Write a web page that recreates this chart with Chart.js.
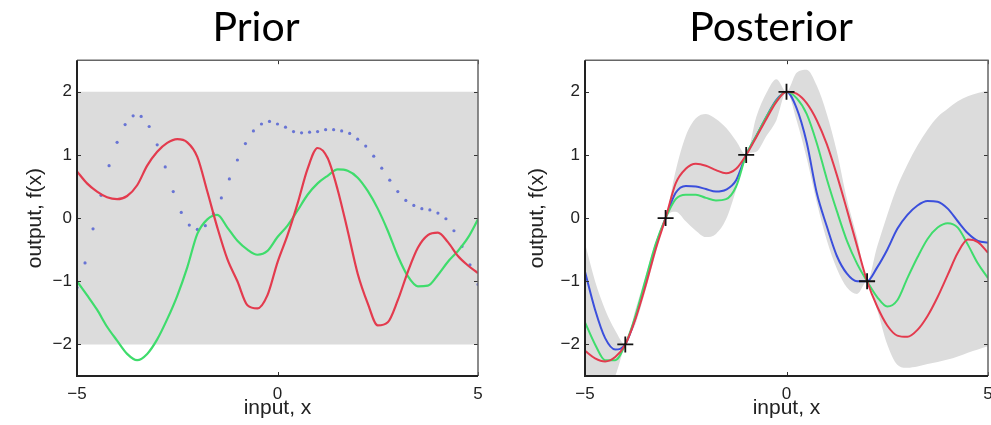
<!DOCTYPE html>
<html><head><meta charset="utf-8">
<script src="https://cdn.jsdelivr.net/npm/chart.js@4.4.1/dist/chart.umd.min.js"></script>
<style>
html,body{margin:0;padding:0;background:#fff;overflow:hidden;width:991px;height:425px;}
#wrap{position:relative;width:991px;height:425px;overflow:hidden;}
canvas{position:absolute;top:0;}
#c1{left:0;width:512px;height:425px;}
#c2{left:500px;width:542px;height:425px;}
</style></head><body>
<div id="wrap"><canvas id="c1" width="512" height="425"></canvas><canvas id="c2" width="542" height="425"></canvas></div>
<script>
// ---- data ----
const xGrid = [-5,-4.75,-4.5,-4.25,-4,-3.75,-3.5,-3.25,-3,-2.75,-2.5,-2.25,-2,-1.75,-1.5,-1.25,-1,-0.75,-0.5,-0.25,0,0.25,0.5,0.75,1,1.25,1.5,1.75,2,2.25,2.5,2.75,3,3.25,3.5,3.75,4,4.25,4.5,4.75,5];

const priorRed = [0.74,0.55,0.42,0.33,0.30,0.35,0.52,0.83,1.05,1.19,1.25,1.2,0.97,0.42,-0.15,-0.65,-1.0,-1.38,-1.43,-1.22,-0.7,-0.27,0.23,0.78,1.11,0.95,0.45,-0.2,-0.88,-1.35,-1.7,-1.65,-1.3,-0.85,-0.47,-0.27,-0.23,-0.38,-0.6,-0.75,-0.87];
const priorGreen = [-1.0,-1.22,-1.45,-1.72,-1.94,-2.15,-2.25,-2.15,-1.92,-1.6,-1.23,-0.78,-0.25,-0.02,0.05,-0.15,-0.36,-0.5,-0.58,-0.52,-0.3,-0.12,0.12,0.37,0.55,0.67,0.77,0.75,0.64,0.43,0.15,-0.2,-0.6,-0.92,-1.08,-1.07,-0.9,-0.69,-0.52,-0.31,-0.02];

const priorDotX = [-5,-4.8,-4.6,-4.4,-4.2,-4,-3.8,-3.6,-3.4,-3.2,-3,-2.8,-2.6,-2.4,-2.2,-2,-1.8,-1.6,-1.4,-1.2,-1,-0.8,-0.6,-0.4,-0.2,0,0.2,0.4,0.6,0.8,1,1.2,1.4,1.6,1.8,2,2.2,2.4,2.6,2.8,3,3.2,3.4,3.6,3.8,4,4.2,4.4,4.6,4.8,5];
const priorDotY = [-1.1,-0.71,-0.17,0.36,0.83,1.2,1.48,1.62,1.61,1.45,1.16,0.81,0.42,0.09,-0.11,-0.18,-0.12,0.07,0.32,0.62,0.92,1.18,1.38,1.49,1.53,1.49,1.44,1.37,1.35,1.36,1.37,1.40,1.40,1.38,1.34,1.25,1.14,0.98,0.79,0.60,0.42,0.28,0.20,0.15,0.13,0.08,-0.01,-0.2,-0.45,-0.74,-1.05];

const priorBandX = [-5,5];
const priorUpper = [2,2];
const priorLower = [-2,-2];

const postRed = [-2.1,-2.22,-2.27,-2.2,-2.0,-1.6,-1.08,-0.5,0,0.55,0.78,0.86,0.83,0.76,0.71,0.78,1.0,1.28,1.57,1.84,2.0,1.97,1.82,1.55,1.17,0.68,0.13,-0.44,-1.0,-1.4,-1.7,-1.86,-1.88,-1.77,-1.55,-1.25,-0.9,-0.55,-0.34,-0.38,-0.55];
const postGreen = [-1.65,-2.0,-2.25,-2.25,-2.0,-1.55,-0.98,-0.42,0,0.3,0.37,0.37,0.32,0.28,0.3,0.5,1.0,1.3,1.6,1.86,2.0,1.9,1.65,1.19,0.62,0.11,-0.36,-0.72,-1.0,-1.25,-1.4,-1.3,-0.95,-0.62,-0.33,-0.15,-0.08,-0.15,-0.42,-0.72,-0.95];
const postBlue = [-0.85,-1.45,-1.9,-2.08,-2.0,-1.58,-1.02,-0.45,0,0.4,0.51,0.5,0.46,0.42,0.45,0.6,1.0,1.3,1.6,1.87,2.0,1.74,1.2,0.4,-0.13,-0.6,-0.88,-1.0,-1.0,-0.78,-0.5,-0.17,0.05,0.2,0.27,0.26,0.15,-0.05,-0.24,-0.36,-0.39];
const postUpper = [-0.4,-1.0,-1.45,-1.78,-2.0,-1.45,-0.92,-0.37,0,0.75,1.3,1.58,1.65,1.57,1.43,1.22,1.0,1.6,1.98,2.2,2.0,2.3,2.35,2.1,1.65,1.05,0.3,-0.3,-1.0,-0.45,0.05,0.5,0.85,1.15,1.4,1.6,1.73,1.85,1.93,1.98,2.02];
const postLower = [-3.4,-3.1,-2.8,-2.5,-2.0,-1.68,-1.15,-0.57,0,0.1,-0.05,-0.2,-0.3,-0.25,-0.02,0.45,1.0,1.05,1.3,1.55,2.0,1.55,0.95,0.25,-0.35,-0.8,-1.1,-1.2,-1.0,-1.45,-2.0,-2.32,-2.37,-2.35,-2.31,-2.28,-2.24,-2.19,-2.13,-2.08,-2.03];

const trainX = [-4,-3,-1,0,2];
const trainY = [-2,0,1,2,-1];

const xTicks = [-5,0,5];
const yTicks = [-2,-1,0,1,2];

// ---- styles ----
const RED = '#e33b4e', GREEN = '#3fdc6c', BLUE = '#3b4fdc', BAND = '#dcdcdc', DOT = '#6874d4';
const tickFont = {family:'"Liberation Sans", Arial, sans-serif', size:17};
const labelFont = {family:'"Liberation Sans", Arial, sans-serif', size:21};
const fmt = v => (v < 0 ? '\u2212' + Math.abs(v) : String(v));
const pts = (xs, ys) => xs.map((x, i) => ({x, y: ys[i]}));

const framePlugin = {
  id: 'frame',
  afterDatasetsDraw(chart) {
    const {ctx, chartArea: a, scales: {x, y}} = chart;
    ctx.save();
    ctx.strokeStyle = '#333'; ctx.lineWidth = 1;
    ctx.beginPath();
    x.ticks.forEach(t => { const p = Math.round(x.getPixelForValue(t.value)) + 0.5;
      ctx.moveTo(p, a.bottom); ctx.lineTo(p, a.bottom - 4); ctx.moveTo(p, a.top); ctx.lineTo(p, a.top + 4); });
    y.ticks.forEach(t => { const p = Math.round(y.getPixelForValue(t.value)) + 0.5;
      ctx.moveTo(a.left, p); ctx.lineTo(a.left + 4, p); ctx.moveTo(a.right, p); ctx.lineTo(a.right - 4, p); });
    ctx.stroke();
    ctx.lineWidth = 1.5; ctx.strokeStyle = '#666';
    ctx.beginPath(); ctx.moveTo(a.left, a.top); ctx.lineTo(a.right, a.top); ctx.lineTo(a.right, a.bottom); ctx.stroke();
    ctx.lineWidth = 2; ctx.strokeStyle = '#222';
    ctx.beginPath(); ctx.moveTo(a.left, a.top); ctx.lineTo(a.left, a.bottom); ctx.lineTo(a.right, a.bottom); ctx.stroke();
    ctx.restore();
  }
};

function makeOptions(title, yWidth, rightWidth, yTitlePad) {
  return {
    responsive: false, animation: false, devicePixelRatio: 1,
    layout: {padding: 0},
    plugins: {
      legend: {display: false}, tooltip: {enabled: false},
      title: {display: true, text: title, color: '#000',
        font: {family: 'Lato, "Open Sans", sans-serif', size: 41, weight: 'normal'},
        padding: {top: 3, bottom: 8}}
    },
    elements: {line: {cubicInterpolationMode: 'monotone'}},
    scales: {
      x: {type: 'linear', min: -5, max: 5,
        afterBuildTicks: s => { s.ticks = xTicks.map(v => ({value: v})); },
        afterFit: s => { s.height = 49; },
        grid: {display: false, drawTicks: false}, border: {display: false},
        ticks: {font: tickFont, color: '#222', padding: 8, maxRotation: 0, autoSkip: false, callback: fmt},
        title: {display: true, text: 'input, x', font: labelFont, color: '#222', padding: {top: 0, bottom: 4}}
      },
      y: {type: 'linear', min: -2.5, max: 2.5,
        afterBuildTicks: s => { s.ticks = yTicks.map(v => ({value: v})); },
        afterFit: s => { s.width = yWidth; },
        grid: {display: false, drawTicks: false}, border: {display: false},
        ticks: {font: tickFont, color: '#222', padding: 5, autoSkip: false, callback: fmt},
        title: {display: true, text: 'output, f(x)', font: labelFont, color: '#222', padding: {top: yTitlePad, bottom: 0}}
      },
      yR: {type: 'linear', position: 'right', display: true,
        afterBuildTicks: s => { s.ticks = []; },
        afterFit: s => { s.width = rightWidth; },
        grid: {display: false, drawTicks: false}, border: {display: false},
        ticks: {display: false}, title: {display: false}
      }
    }
  };
}

new Chart(document.getElementById('c1'), {
  type: 'line',
  data: {datasets: [
    {data: pts(priorBandX, priorUpper), fill: '+1', backgroundColor: BAND, borderWidth: 0, pointRadius: 0, order: 10},
    {data: pts(priorBandX, priorLower), fill: false, borderWidth: 0, pointRadius: 0, order: 10},
    {data: pts(priorDotX, priorDotY), showLine: false, pointRadius: 1.6, pointBackgroundColor: DOT, pointBorderWidth: 0, order: 3},
    {data: pts(xGrid, priorGreen), borderColor: GREEN, borderWidth: 2.2, pointRadius: 0, fill: false, order: 2},
    {data: pts(xGrid, priorRed), borderColor: RED, borderWidth: 2.2, pointRadius: 0, fill: false, order: 1}
  ]},
  options: makeOptions('Prior', 77, 34, 23),
  plugins: [framePlugin]
});

new Chart(document.getElementById('c2'), {
  type: 'line',
  data: {datasets: [
    {data: pts(xGrid, postUpper), fill: '+1', backgroundColor: BAND, borderWidth: 0, pointRadius: 0, order: 10},
    {data: pts(xGrid, postLower), fill: false, borderWidth: 0, pointRadius: 0, order: 10},
    {data: pts(xGrid, postBlue), borderColor: BLUE, borderWidth: 2, pointRadius: 0, fill: false, order: 4},
    {data: pts(xGrid, postGreen), borderColor: GREEN, borderWidth: 2, pointRadius: 0, fill: false, order: 3},
    {data: pts(xGrid, postRed), borderColor: RED, borderWidth: 2, pointRadius: 0, fill: false, order: 2},
    {data: pts(trainX, trainY), showLine: false, pointStyle: 'cross', pointRadius: 8, pointBorderWidth: 1.8, pointBorderColor: '#111', order: 1}
  ]},
  options: makeOptions('Posterior', 85, 54, 25),
  plugins: [framePlugin]
});
</script>
</body></html>
